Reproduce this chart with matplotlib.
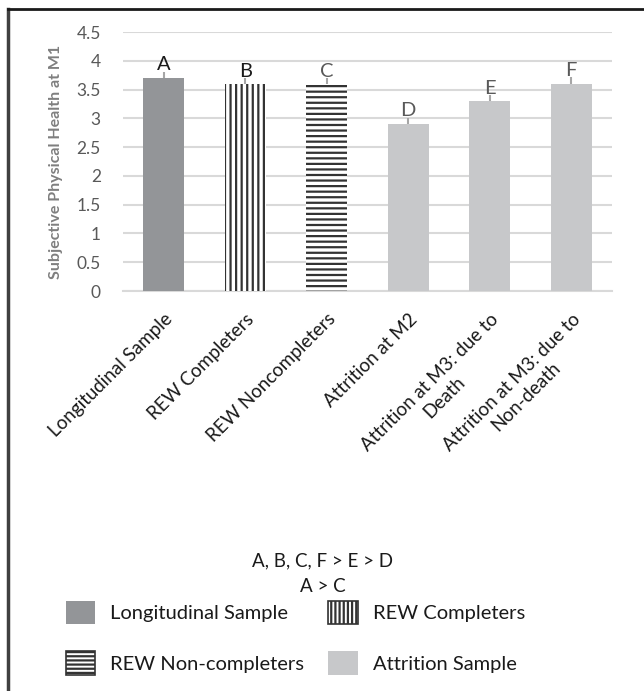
import matplotlib
matplotlib.use("Agg")
import matplotlib.pyplot as plt
from matplotlib.patches import Patch
from matplotlib.lines import Line2D
import numpy as np

plt.rcParams['font.family'] = ['Lato', 'DejaVu Sans']
plt.rcParams['hatch.linewidth'] = 1.6

categories = ["Longitudinal Sample", "REW Completers", "REW Noncompleters",
              "Attrition at M2", "Attrition at M3: due to\nDeath",
              "Attrition at M3: due to\nNon-death"]
values = [3.7, 3.6, 3.6, 2.9, 3.3, 3.6]
errors = [0.11, 0.10, 0.10, 0.11, 0.10, 0.12]
letters = ["A", "B", "C", "D", "E", "F"]
yticks = [0, 0.5, 1, 1.5, 2, 2.5, 3, 3.5, 4, 4.5]
ytick_labels = ["0", "0.5", "1", "1.5", "2", "2.5", "3", "3.5", "4", "4.5"]
legend_labels = ["Longitudinal Sample", "REW Completers", "REW Non-completers", "Attrition Sample"]
note_lines = ["A, B, C, F > E > D", "A > C"]

dark = "#939598"
light = "#c7c8ca"
hatch_col = "#333333"
face = [dark, "white", "white", light, light, light]
hatches = [None, "|||", "---", None, None, None]
letter_colors = ["#1a1a1a", "#1a1a1a", "#595959", "#595959", "#595959", "#595959"]

W, H = 644, 691
fig = plt.figure(figsize=(W / 100, H / 100), dpi=100)
ax = fig.add_axes([123 / W, 1 - 291 / H, (612 - 123) / W, (291 - 32) / H])

x = np.arange(len(categories))
for i in range(len(categories)):
    ax.bar(x[i], values[i], width=0.5, color=face[i], hatch=hatches[i],
           edgecolor=hatch_col if hatches[i] else face[i], linewidth=0, zorder=3)

ax.errorbar(x, values, yerr=[np.zeros(len(values)), errors], fmt="none",
            ecolor="#a6a6a6", elinewidth=1.5, capsize=0, zorder=4)
for i in range(len(categories)):
    ax.text(x[i], values[i] + errors[i] - 0.03, letters[i], ha="center", va="bottom",
            fontsize=14.5, color=letter_colors[i], zorder=5)

ax.set_xlim(-0.5, len(categories) - 0.5)
ax.set_ylim(0, 4.5)
ax.set_yticks(yticks)
ax.set_yticklabels(ytick_labels, fontsize=12.5, color="#595959")
ax.yaxis.grid(True, color="#d9d9d9", linewidth=1.5, zorder=0)
ax.set_axisbelow(True)
for s in ["top", "right", "left"]:
    ax.spines[s].set_visible(False)
ax.spines["bottom"].set_color("#d9d9d9")
ax.spines["bottom"].set_linewidth(1.5)
ax.tick_params(axis="both", length=0)
ax.tick_params(axis="y", pad=16)
ax.set_xticks(x)
ax.set_xticklabels(categories, rotation=45, ha="right", rotation_mode="anchor",
                   fontsize=13.5, color="#1a1a1a", multialignment="center",
                   linespacing=1.25)
ax.tick_params(axis="x", pad=14)
ax.set_ylabel("Subjective Physical Health at M1", fontsize=11.5, fontweight="bold",
              color="#7f7f7f", labelpad=10)

# notes
for k, line in enumerate(note_lines):
    fig.text(323 / W, 1 - (561 + 25 * k) / H, line, ha="center", va="center",
             fontsize=13.5, color="#1a1a1a")

# legend
handles = [
    Patch(facecolor=dark, edgecolor=dark, linewidth=0),
    Patch(facecolor="white", edgecolor=hatch_col, hatch="----", linewidth=1.2),
    Patch(facecolor="white", edgecolor=hatch_col, hatch="||||", linewidth=1.2),
    Patch(facecolor=light, edgecolor=light, linewidth=0),
]
labels = [legend_labels[0], legend_labels[2], legend_labels[1], legend_labels[3]]
fig.legend(handles, labels, ncol=2, loc="upper left",
           bbox_to_anchor=(66 / W, 1 - 601 / H), frameon=False, fontsize=14.5,
           handlelength=1.45, handleheight=1.4, handletextpad=0.75,
           columnspacing=1.2, labelspacing=1.35, borderpad=0, borderaxespad=0,
           labelcolor="#1a1a1a")

# outer frame (left and top edges visible)
fig.add_artist(Line2D([8 / W, 8 / W], [0, 1 - 9 / H], transform=fig.transFigure,
                      color="#404040", linewidth=2.5))
fig.add_artist(Line2D([8 / W, 1], [1 - 9 / H, 1 - 9 / H], transform=fig.transFigure,
                      color="#1a1a1a", linewidth=2))

fig.savefig("out.png", dpi=100)
